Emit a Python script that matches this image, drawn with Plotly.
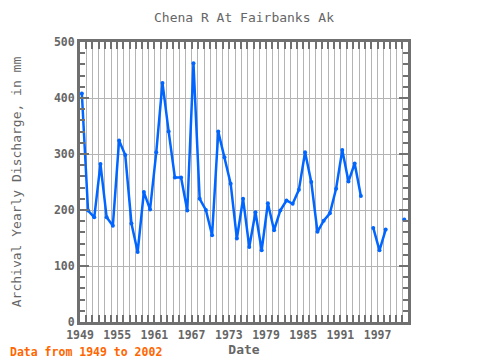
import plotly.graph_objects as go

years = list(range(1949, 2002))
discharge = [408, 199, 187, 282, 187, 172, 324, 298, 176, 125,
             232, 201, 303, 427, 340, 258, 258, 199, 462, 220,
             200, 155, 340, 294, 247, 149, 220, 134, 196, 128,
             212, 164, 199, 217, 211, 236, 303, 250, 161, 181,
             194, 238, 307, 251, 283, 225, None, 168, 128, 165,
             None, None, 183]
point_offset = 0.3  # annual values plotted slightly after Jan 1
xvals = [y + point_offset for y in years]

title_text = "Chena R At Fairbanks Ak"
ytitle = "Archival Yearly Discharge, in mm"
xtitle = "Date"
note = "Data from 1949 to 2002"

mono = "DejaVu Sans Mono"
gray = "#666666"
frame = "#707070"

fig = go.Figure()
fig.add_trace(go.Scatter(
    x=xvals, y=discharge, mode="lines+markers",
    line=dict(color="#0066ff", width=2.5),
    marker=dict(color="#0066ff", size=4),
    connectgaps=False, showlegend=False, hoverinfo="x+y"))

fig.update_layout(
    width=472, height=352,
    margin=dict(l=72, r=72, t=34, b=38),
    paper_bgcolor="white", plot_bgcolor="white",
    title=dict(text=title_text, x=0.5, xanchor="center", y=0.972, yanchor="middle",
               font=dict(family=mono, size=13, color=gray)),
    annotations=[dict(text=note, xref="paper", yref="paper", x=-0.22, y=-0.107,
                      xanchor="left", yanchor="middle", showarrow=False,
                      font=dict(family=mono, size=11.5, color="#ff6600", weight="bold"))],
)

fig.update_xaxes(
    range=[1949, 2001.9], tick0=1949, dtick=6, automargin=False,
    showgrid=True, gridcolor="#b4b4b4", gridwidth=1,
    ticks="inside", ticklen=7, tickwidth=2, tickcolor=frame,
    minor=dict(dtick=1, tick0=1949, showgrid=True, gridcolor="#b4b4b4", gridwidth=1,
               ticks="inside", ticklen=7, tickwidth=2, tickcolor=frame),
    showline=True, linecolor=frame, linewidth=3, mirror="ticks",
    zeroline=False,
    tickfont=dict(family=mono, size=11.5, color=gray, weight="bold"),
    title=dict(text=xtitle, standoff=3,
               font=dict(family=mono, size=13, color=gray, weight="bold")),
)
fig.update_yaxes(
    range=[0, 500], dtick=100, automargin=False,
    showgrid=True, gridcolor="#b4b4b4", gridwidth=1,
    ticks="inside", ticklen=9, tickwidth=2, tickcolor=frame,
    minor=dict(dtick=20, ticks="inside", ticklen=5, tickwidth=2, tickcolor=frame,
               showgrid=False),
    showline=True, linecolor=frame, linewidth=3, mirror="ticks",
    zeroline=False,
    tickfont=dict(family=mono, size=11.5, color=gray, weight="bold"),
    title=dict(text=ytitle, standoff=30,
               font=dict(family=mono, size=13, color=gray)),
)

fig.write_html("out.html")
